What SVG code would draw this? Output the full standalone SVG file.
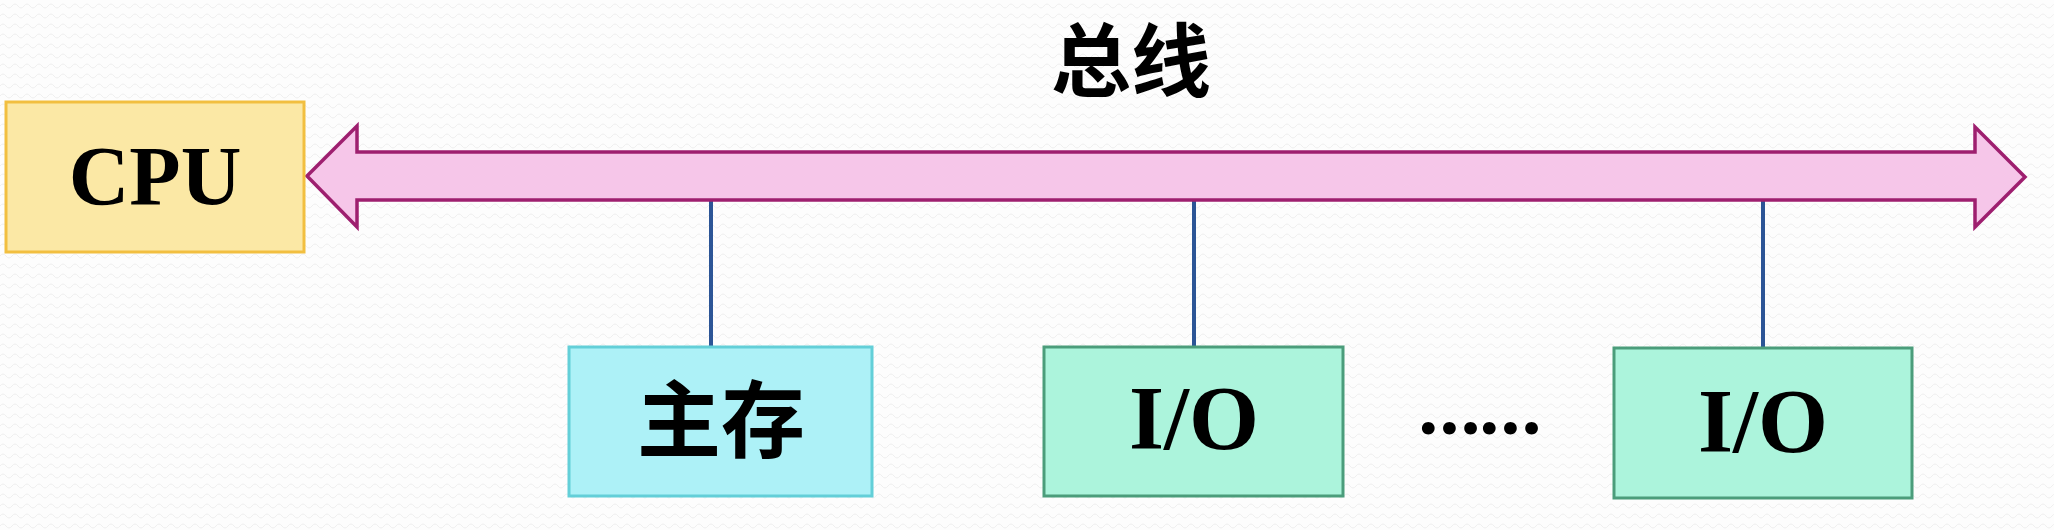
<svg xmlns="http://www.w3.org/2000/svg" width="2054" height="530" viewBox="0 0 2054 530">
  <defs>
    <pattern id="bg" width="12" height="10" patternUnits="userSpaceOnUse">
      <rect width="12" height="10" fill="#fdfdfd"/>
      <path d="M0 6 Q3 2 6 6 T12 6" fill="none" stroke="#efefef" stroke-width="1"/>
    </pattern>
    <style>
      .lbl { font-family: "Liberation Serif", "Times New Roman", serif; font-weight: bold; fill: #000; text-anchor: middle; }
      .cjk { font-family: "Noto Sans CJK SC", "Noto Sans", sans-serif; font-weight: bold; fill: #000; text-anchor: middle; }
      .dots { font-family: Lato, "Open Sans", sans-serif; font-weight: 900; fill: #000; text-anchor: middle; }
      .io { fill: #acf4dc; stroke: #4b9d7b; stroke-width: 3; }
      .conn { stroke: #2c5596; stroke-width: 4; fill: none; }
    </style>
  </defs>
  <rect width="2054" height="530" fill="url(#bg)"/>

  <g id="title">
    <text class="cjk" x="1131" y="90" font-size="80">总线</text>
  </g>

  <g id="connectors">
    <line class="conn" x1="711" y1="198" x2="711" y2="347"/>
    <line class="conn" x1="1194" y1="198" x2="1194" y2="347"/>
    <line class="conn" x1="1763" y1="198" x2="1763" y2="348"/>
  </g>

  <g id="bus">
    <polygon points="307,176 357,126 357,152 1975,152 1975,127 2025,177 1975,227 1975,200 357,200 357,227" fill="#f6c6e9" stroke="#9e1f6f" stroke-width="3.5" stroke-linejoin="miter"/>
  </g>

  <g id="cpu">
    <rect x="6" y="102" width="298" height="150" fill="#fbe8a5" stroke="#f2bf40" stroke-width="3"/>
    <text class="lbl" x="155" y="205" font-size="84">CPU</text>
  </g>

  <g id="memory">
    <rect x="569" y="347" width="303" height="149" fill="#adf1f7" stroke="#63cfd8" stroke-width="3"/>
    <text class="cjk" x="721" y="451" font-size="84">主存</text>
  </g>

  <g id="io1">
    <rect class="io" x="1044" y="347" width="299" height="149"/>
    <text class="lbl" x="1194" y="449" font-size="90">I/O</text>
  </g>

  <g id="ellipsis">
    <text class="dots" x="1480" y="434" font-size="78">……</text>
  </g>

  <g id="io2">
    <rect class="io" x="1614" y="348" width="298" height="150"/>
    <text class="lbl" x="1763" y="452" font-size="90">I/O</text>
  </g>
</svg>
